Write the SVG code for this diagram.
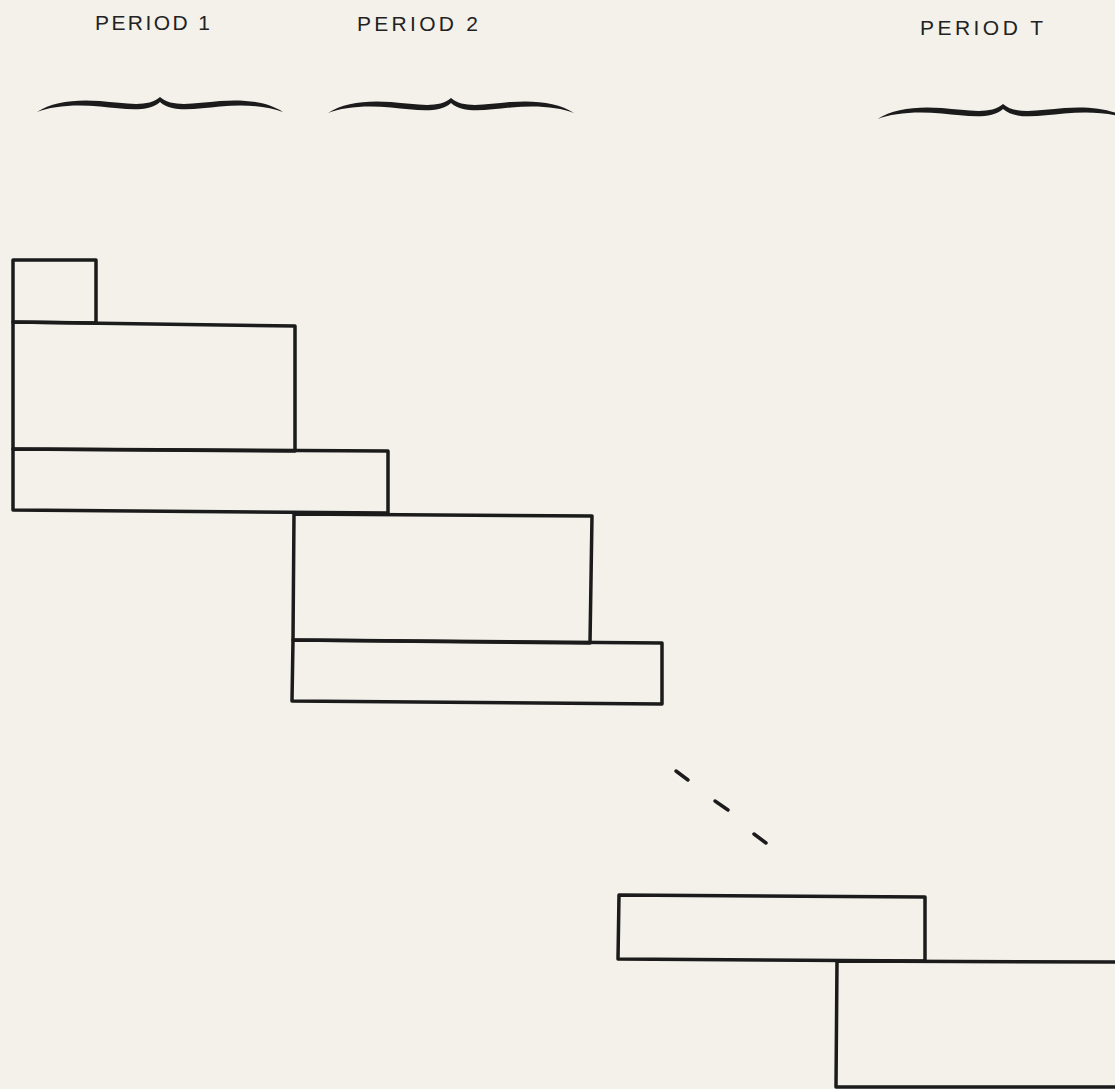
<svg xmlns="http://www.w3.org/2000/svg" width="1115" height="1089" viewBox="0 0 1115 1089">
<style>
.bg{fill:#f3f1ea}
.lbl{font-family:"Liberation Sans","DejaVu Sans",sans-serif;font-size:21px;fill:#222}
.box{fill:none;stroke:#1b1b1b;stroke-width:3.5;stroke-linejoin:round;stroke-linecap:round}
.brace{fill:#1b1b1b}
.dash{stroke:#1b1b1b;stroke-width:3.5;stroke-linecap:round}
</style>
<defs>
<path id="br" d="M -123,15 C -108,5 -85,2 -60,4 C -35,6 -12,11 0,0 C 12,11 35,6 60,4 C 85,2 108,5 123,15 C 108,9 85,7 60,9.5 C 35,12 12,16 0,5 C -12,16 -35,12 -60,9.5 C -85,7 -108,9 -123,15 Z"/>
</defs>
<rect class="bg" x="0" y="0" width="1115" height="1089"/>
<g id="headers">
<text class="lbl" x="95" y="30" textLength="115" lengthAdjust="spacing">PERIOD 1</text>
<text class="lbl" x="357" y="31" textLength="121" lengthAdjust="spacing">PERIOD 2</text>
<text class="lbl" x="920" y="35" textLength="123" lengthAdjust="spacing">PERIOD T</text>
</g>
<g id="braces">
<use class="brace" href="#br" transform="translate(160,97)"/>
<use class="brace" href="#br" transform="translate(451,98)"/>
<use class="brace" href="#br" transform="translate(1003,104) scale(1.02,1)"/>
</g>
<g id="box-a"><path class="box" d="M13,260 L96,260 L96,323 L13,322 Z"/></g>
<g id="box-b"><path class="box" d="M13,322 L295,326 L295,451 L13,449 Z"/></g>
<g id="box-c"><path class="box" d="M13,449 L388,451 L388,513 L13,510 Z"/></g>
<g id="box-d"><path class="box" d="M294,514 L592,516 L590,643 L293,640 Z"/></g>
<g id="box-e"><path class="box" d="M293,640 L662,643 L662,704 L292,701 Z"/></g>
<g id="box-f"><path class="box" d="M619,895 L925,897 L925,961 L618,959 Z"/></g>
<g id="box-g"><path class="box" d="M1120,962 L837,961 L836,1087 L1120,1087"/></g>
<g id="connectors">
<line class="dash" x1="676" y1="771" x2="688" y2="780"/>
<line class="dash" x1="715" y1="801" x2="728" y2="810"/>
<line class="dash" x1="754" y1="834" x2="766" y2="843"/>
</g>
</svg>
